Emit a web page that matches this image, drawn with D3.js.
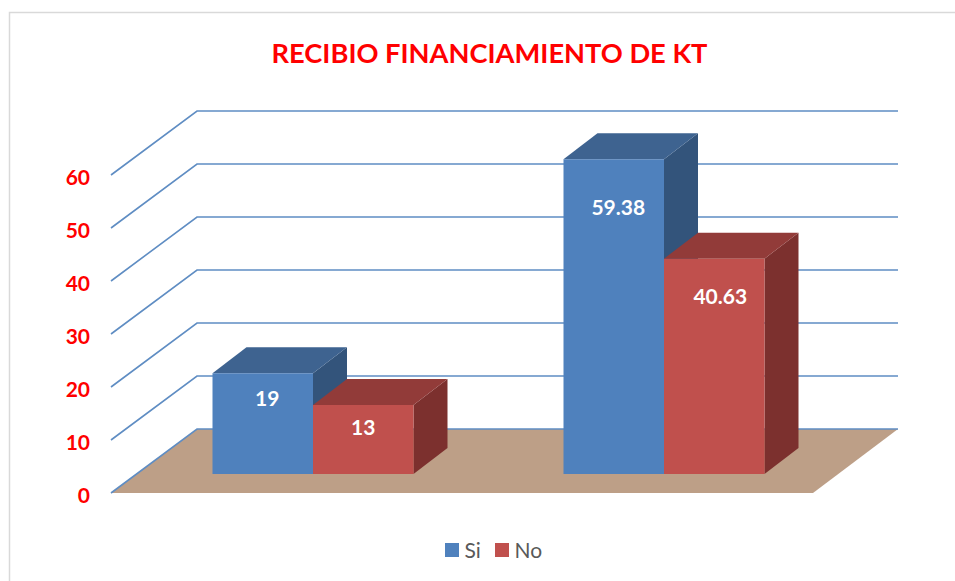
<!DOCTYPE html>
<html><head><meta charset="utf-8">
<script src="https://cdn.jsdelivr.net/npm/d3@7"></script>
<style>html,body{margin:0;padding:0;background:#fff}svg{display:block}text{font-family:Lato,"Open Sans",sans-serif}</style>
</head><body><div id="c"></div>
<script>
const categories = ["Grupo 1", "Grupo 2"];
const seriesNames = ["Si", "No"];
const siValues = [19, 59.38];
const noValues = [13, 40.63];
const tickValues = [0, 10, 20, 30, 40, 50, 60];
const titleText = "RECIBIO FINANCIAMIENTO DE KT";
const faceColors = {Si: ["#4f81bd", "#3e6390", "#33547b"], No: ["#c0504d", "#923b39", "#7c302e"]};

const W = 955, H = 581;
const svg = d3.select("#c").append("svg").attr("width", W).attr("height", H);
const left = 111, right = 813, base = 493;
const depthX = 86, depthY = -64;
const y = d3.scaleLinear().domain([0, 60]).range([0, -318]);
const x = d3.scaleBand().domain(categories).range([left, right]);
const sub = d3.scaleBand().domain(seriesNames).range([-100.5, 100.5]);
const barDepth = {startX: 26.5, startY: -19, dx: 34, dy: -26};
const pts = a => a.map(p => p.join(",")).join(" ");

// frame
svg.append("path").attr("d", `M9.5,${H} V12.5 H${W}`).attr("fill", "none").attr("stroke", "#d9d9d9").attr("stroke-width", 1.5);

// floor
svg.append("polygon").attr("fill", "#bd9f87")
  .attr("points", pts([[left, base], [left + depthX, base + depthY], [right + depthX - 1, base + depthY], [right, base]]));

// gridlines
const grid = svg.append("g").attr("fill", "none").attr("stroke", "#5f8dc3").attr("stroke-width", 1.6);
grid.selectAll("polyline").data(tickValues).join("polyline")
  .attr("points", d => pts([[left, base + y(d)], [left + depthX, base + depthY + y(d)], [right + depthX - 1, base + depthY + y(d)]]));

// tick labels
svg.append("g").selectAll("text").data(tickValues).join("text")
  .attr("x", 90).attr("y", d => base + y(d) + 2).attr("dy", "0.36em").attr("text-anchor", "end")
  .attr("fill", "#ff0000").attr("font-size", 21).attr("font-weight", 700).text(d => d);

// bars
const rows = categories.flatMap((c, i) => [
  {c, s: "Si", v: siValues[i], i},
  {c, s: "No", v: noValues[i], i}
]);
const bars = svg.append("g").selectAll("g").data(rows).join("g");
const geom = d => {
  const x0 = x(d.c) + x.bandwidth() / 2 + barDepth.startX + sub(d.s);
  const x1 = x0 + sub.bandwidth();
  const b = base + barDepth.startY, t = b + y(d.v);
  return {x0, x1, b, t};
};
bars.append("polygon").attr("fill", d => faceColors[d.s][2]).attr("points", d => {
  const g = geom(d);
  return pts([[g.x1, g.t], [g.x1 + barDepth.dx, g.t + barDepth.dy], [g.x1 + barDepth.dx, g.b + barDepth.dy], [g.x1, g.b]]);
});
bars.append("polygon").attr("fill", d => faceColors[d.s][1]).attr("points", d => {
  const g = geom(d);
  return pts([[g.x0, g.t], [g.x0 + barDepth.dx, g.t + barDepth.dy], [g.x1 + barDepth.dx, g.t + barDepth.dy], [g.x1, g.t]]);
});
bars.append("polygon").attr("fill", d => faceColors[d.s][0]).attr("points", d => {
  const g = geom(d);
  return pts([[g.x0, g.t], [g.x1, g.t], [g.x1, g.b], [g.x0, g.b]]);
});
bars.append("text").attr("text-anchor", "middle").attr("fill", "#fff").attr("font-size", 21).attr("font-weight", 700)
  .attr("x", d => { const g = geom(d); return (g.x0 + g.x1) / 2 + (d.s === "Si" ? 4.5 : d.i * 6); })
  .attr("y", d => { const g = geom(d); return g.t + 15 + 0.105 * (g.b - g.t); })
  .attr("dy", "0.36em").text(d => d.v);

// title
svg.append("text").attr("x", 489.5).attr("y", 62.5).attr("text-anchor", "middle").attr("fill", "#ff0000")
  .attr("font-size", 27.25).attr("font-weight", 700).text(titleText);

// legend
const legendX = {Si: 445, No: 495};
const lg = svg.append("g").selectAll("g").data(seriesNames).join("g");
lg.append("rect").attr("x", d => legendX[d]).attr("y", 543).attr("width", 14).attr("height", 14).attr("fill", d => faceColors[d][0]);
lg.append("text").attr("x", d => legendX[d] + 19.5).attr("y", 550).attr("dy", "0.36em").attr("font-size", 21).attr("fill", "#595959").text(d => d);
</script></body></html>
